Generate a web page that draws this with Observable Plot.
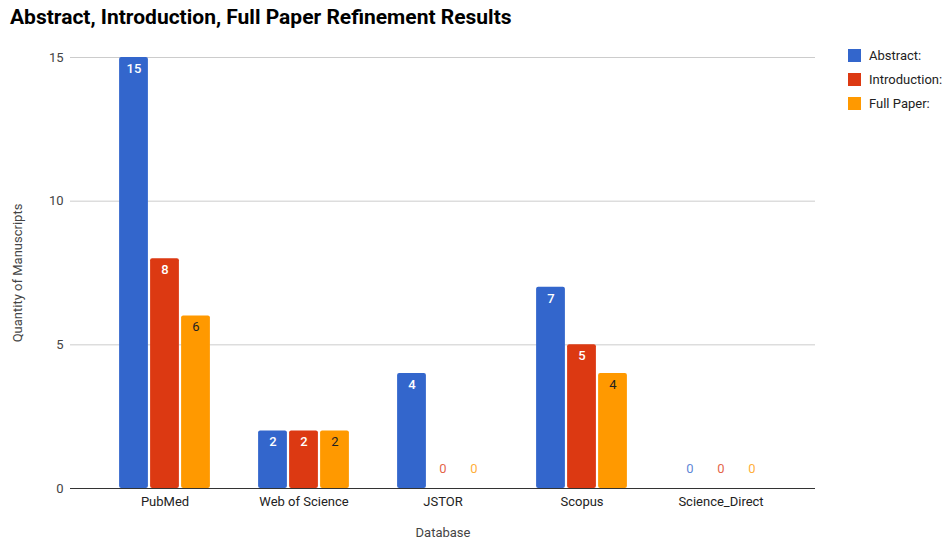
<!DOCTYPE html>
<html>
<head>
<meta charset="utf-8">
<script src="https://cdn.jsdelivr.net/npm/d3@7"></script>
<script src="https://cdn.jsdelivr.net/npm/@observablehq/plot@0.6"></script>
<style>
  body { margin: 0; background: #fff; font-family: Roboto, "Noto Sans", sans-serif; }
  #wrap { position: relative; width: 945px; height: 543px; }
  #title { position: absolute; left: 10px; top: 5px; font-size: 21px; font-weight: bold; color: #000; white-space: nowrap; }
  #chart { position: absolute; left: 0; top: 40px; }
  #legend { position: absolute; left: 848px; top: 43px; font-size: 13px; color: #222; }
  .item { display: flex; align-items: center; height: 24px; }
  .sw { width: 13px; height: 13px; margin-right: 8px; }
</style>
</head>
<body>
<div id="wrap">
  <div id="title">Abstract, Introduction, Full Paper Refinement Results</div>
  <div id="chart"></div>
  <div id="legend"></div>
</div>
<script>
const categories = ["PubMed", "Web of Science", "JSTOR", "Scopus", "Science_Direct"];
const seriesNames = ["Abstract:", "Introduction:", "Full Paper:"];
const abstractVals = [15, 2, 4, 7, 0];
const introductionVals = [8, 2, 0, 5, 0];
const fullPaperVals = [6, 2, 0, 4, 0];
const seriesColors = ["#3366cc", "#dc3912", "#ff9900"];
const labelColors = ["#ffffff", "#ffffff", "#222222"];
const labelWeights = [500, 500, 400];
const yTicks = [0, 5, 10, 15];

const seriesVals = [abstractVals, introductionVals, fullPaperVals];
const offsets = [-31, 0, 31];

const marks = [
  Plot.ruleY(yTicks.filter(d => d > 0), {stroke: "#cccccc", strokeWidth: 1}),
];
seriesVals.forEach((vals, si) => {
  const data = categories.map((c, i) => ({category: c, value: vals[i]}));
  marks.push(Plot.barY(data.filter(d => d.value > 0), {
    x: "category", y: "value", fill: seriesColors[si],
    insetLeft: 55.1, insetRight: 55.1, dx: offsets[si], rx: 2
  }));
  marks.push(Plot.text(data.filter(d => d.value > 0), {
    x: "category", y: "value", text: d => String(d.value),
    dx: offsets[si], dy: 11, fill: labelColors[si], fontSize: 13, fontWeight: labelWeights[si]
  }));
  marks.push(Plot.text(data.filter(d => d.value === 0), {
    x: "category", y: "value", text: d => String(d.value),
    dx: offsets[si], dy: -20, fill: seriesColors[si], fontSize: 13, fillOpacity: 0.8
  }));
});
marks.push(Plot.ruleY([0], {stroke: "#333333", strokeWidth: 1}));

const chart = Plot.plot({
  width: 945,
  height: 503,
  marginTop: 17,
  marginLeft: 70,
  marginRight: 130,
  marginBottom: 55,
  style: {fontFamily: "Roboto, 'Noto Sans', sans-serif", background: "#fff"},
  x: {
    domain: categories, paddingInner: 0, paddingOuter: 0.175,
    label: "Database", labelAnchor: "center", labelOffset: 48, tickSize: 0, tickPadding: 8, labelArrow: "none"
  },
  y: {
    domain: [0, 15], ticks: yTicks, tickSize: 0, tickPadding: 7,
    label: "Quantity of Manuscripts", labelAnchor: "center", labelOffset: 58, labelArrow: "none"
  },
  marks
});
d3.select(chart).selectAll("[aria-label='x-axis tick label'] text, g[aria-label='x-axis'] text")
  .style("font-size", "13px").attr("fill", "#222");
d3.select(chart).selectAll("[aria-label='y-axis tick label'] text")
  .style("font-size", "13px").attr("fill", "#444");
d3.select(chart).selectAll("[aria-label='x-axis label'] text, [aria-label='y-axis label'] text")
  .style("font-size", "13px").attr("fill", "#444");
document.getElementById("chart").appendChild(chart);

const legend = document.getElementById("legend");
seriesNames.forEach((n, i) => {
  const it = document.createElement("div");
  it.className = "item";
  const sw = document.createElement("div");
  sw.className = "sw";
  sw.style.background = seriesColors[i];
  const tx = document.createElement("span");
  tx.textContent = n;
  it.appendChild(sw); it.appendChild(tx);
  legend.appendChild(it);
});
</script>
</body>
</html>
